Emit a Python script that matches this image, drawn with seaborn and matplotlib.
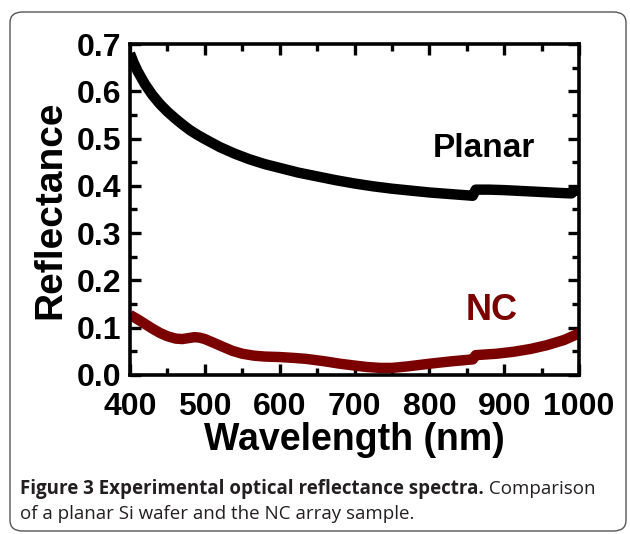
import pandas as pd
import matplotlib
matplotlib.use("Agg")
import matplotlib.pyplot as plt
import seaborn as sns
from matplotlib.patches import FancyBboxPatch
from matplotlib.ticker import MultipleLocator

# values
planar_nm = [400, 405, 410, 420, 430, 440, 450, 460, 470, 480, 490, 500, 520, 540,
             560, 580, 600, 625, 650, 675, 700, 725, 750, 775, 800, 825, 850, 858,
             862, 880, 900, 925, 950, 975, 990, 994, 1000]
planar_r = [0.680, 0.660, 0.643, 0.615, 0.592, 0.573, 0.557, 0.543, 0.530, 0.518,
            0.508, 0.499, 0.482, 0.468, 0.456, 0.446, 0.438, 0.428, 0.420, 0.412,
            0.405, 0.399, 0.394, 0.390, 0.386, 0.383, 0.380, 0.379, 0.392, 0.392,
            0.391, 0.389, 0.387, 0.385, 0.384, 0.390, 0.390]

nc_nm = [400, 410, 420, 430, 440, 450, 461, 470, 478, 486, 493, 500, 512, 525, 537,
         550, 565, 580, 600, 620, 636, 660, 680, 700, 716, 734, 750, 770, 801, 830,
         858, 862, 890, 912, 935, 957, 980, 1000]
nc_r = [0.127, 0.118, 0.108, 0.098, 0.089, 0.082, 0.077, 0.076, 0.078, 0.080, 0.079,
        0.076, 0.068, 0.059, 0.051, 0.045, 0.041, 0.039, 0.038, 0.036, 0.034, 0.029,
        0.024, 0.020, 0.017, 0.015, 0.015, 0.018, 0.024, 0.029, 0.033, 0.042, 0.045,
        0.049, 0.055, 0.063, 0.074, 0.088]

x_ticks = [400, 500, 600, 700, 800, 900, 1000]
y_ticks = [0.0, 0.1, 0.2, 0.3, 0.4, 0.5, 0.6, 0.7]

caption_bold = "Figure 3 Experimental optical reflectance spectra."
caption_rest = " Comparison"
caption_line2 = "of a planar Si wafer and the NC array sample."

planar_df = pd.DataFrame({"Wavelength": planar_nm, "Reflectance": planar_r})
nc_df = pd.DataFrame({"Wavelength": nc_nm, "Reflectance": nc_r})

sns.set_style("ticks")
plt.rcParams["font.family"] = ["Liberation Sans", "DejaVu Sans"]
plt.rcParams["text.color"] = "black"
plt.rcParams["axes.labelcolor"] = "black"
plt.rcParams["xtick.color"] = "black"
plt.rcParams["ytick.color"] = "black"
plt.rcParams["axes.edgecolor"] = "black"

fig = plt.figure(figsize=(6.3, 5.34), dpi=100)
ax = fig.add_axes([130 / 630, 1 - 375 / 534, 449 / 630, 331 / 534])

dark_red = "#7b0000"
sns.lineplot(data=planar_df, x="Wavelength", y="Reflectance", ax=ax, color="black",
             linewidth=7.5, sort=False, solid_capstyle="butt", solid_joinstyle="round")
sns.lineplot(data=nc_df, x="Wavelength", y="Reflectance", ax=ax, color=dark_red,
             linewidth=7.5, sort=False, solid_capstyle="butt", solid_joinstyle="round")

ax.set_xlim(400, 1000)
ax.set_ylim(0, 0.7)
ax.set_xticks(x_ticks)
ax.set_yticks(y_ticks)
ax.set_xticklabels([str(v) for v in x_ticks])
ax.set_yticklabels([f"{v:.1f}" for v in y_ticks])
ax.xaxis.set_minor_locator(MultipleLocator(50))
ax.yaxis.set_minor_locator(MultipleLocator(0.05))

for s in ax.spines.values():
    s.set_visible(True)
    s.set_linewidth(2.6)
    s.set_color("black")
ax.tick_params(which="major", direction="in", length=8, width=2.4,
               top=True, right=True, labelsize=23, colors="black")
ax.tick_params(axis="x", which="major", pad=12)
ax.tick_params(axis="y", which="major", pad=6)
ax.tick_params(which="minor", direction="in", length=5, width=2.4,
               top=True, right=True, colors="black")
for lab in ax.get_xticklabels() + ax.get_yticklabels():
    lab.set_fontweight("bold")

ax.set_xlabel("Wavelength (nm)", fontsize=27, fontweight="bold", labelpad=0,
              color="black")
ax.set_ylabel("Reflectance", fontsize=28, fontweight="bold", labelpad=6,
              color="black")

ax.text(873, 0.48, "Planar", fontsize=24, fontweight="bold", color="black",
        ha="center", va="center")
ax.text(883, 0.137, "NC", fontsize=26, fontweight="bold", color=dark_red,
        ha="center", va="center")

# caption under the chart
cap_color = "#231f20"
t1 = fig.text(20 / 630, 1 - 489 / 534, caption_bold, fontsize=13.5, fontweight="bold",
              family="Open Sans", color=cap_color, va="center", ha="left")
fig.canvas.draw()
bb = t1.get_window_extent()
fig.text(bb.x1 / fig.bbox.width, 1 - 489 / 534, caption_rest, fontsize=13.5,
         family="Open Sans", color=cap_color, va="center", ha="left")
fig.text(20 / 630, 1 - 514 / 534, caption_line2, fontsize=13.5,
         family="Open Sans", color=cap_color, va="center", ha="left")

# rounded frame round the figure
frame = FancyBboxPatch((10 / 630, 1 - 531 / 534), 616 / 630, 519 / 534,
                       boxstyle="round,pad=0,rounding_size=0.02",
                       transform=fig.transFigure, fill=False,
                       edgecolor="#555555", linewidth=1.0)
fig.patches.append(frame)

fig.savefig("out.png", dpi=100)
